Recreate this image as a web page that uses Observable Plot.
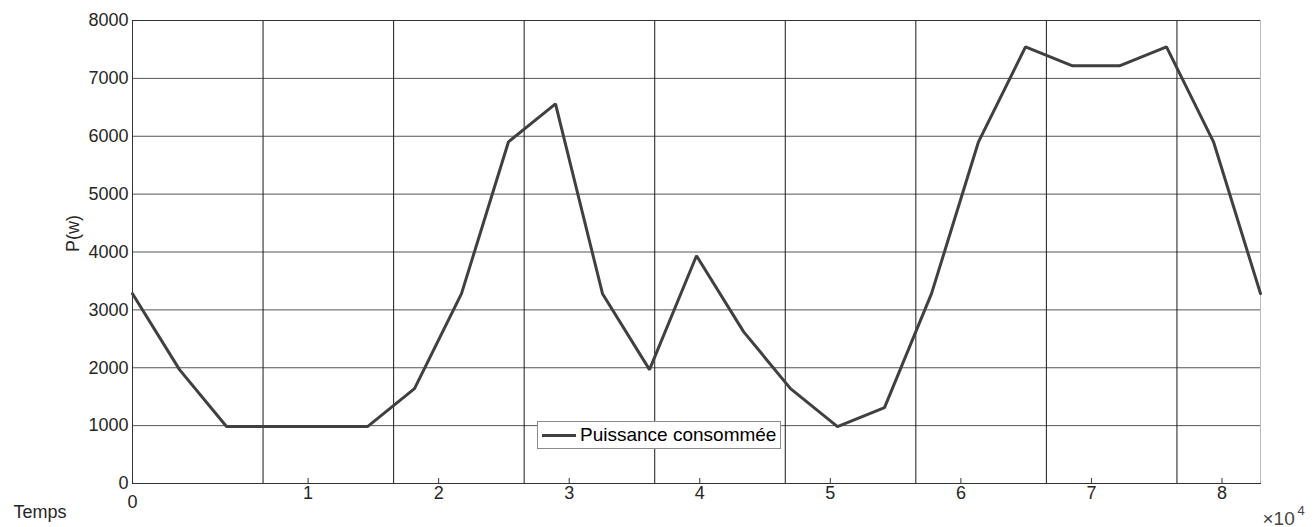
<!DOCTYPE html>
<html><head><meta charset="utf-8">
<script src="https://cdn.jsdelivr.net/npm/d3@7"></script>
<script src="https://cdn.jsdelivr.net/npm/@observablehq/plot@0.6"></script>
<style>
body{margin:0;background:#fff;}
#wrap{position:relative;width:1314px;height:527px;}
#legend{position:absolute;left:537px;top:421px;width:244px;height:28px;border:1px solid #8c8c8c;background:#fff;box-sizing:border-box;
 font:19px "Liberation Sans", Arial, sans-serif;color:#000;display:flex;align-items:center;}
#legend .sw{display:inline-block;width:34px;height:0;border-top:3px solid #404040;margin-left:4px;margin-right:4px;}
</style></head><body><div id="wrap"></div>
<script>
// Data: time in seconds (hourly), power in W
const timeSec = [0,3600,7200,10800,14400,18000,21600,25200,28800,32400,36000,39600,43200,46800,50400,54000,57600,61200,64800,68400,72000,75600,79200,82800,86400];
const power   = [3280,1968,984,984,984,984,1640,3280,5904,6560,3280,1968,3936,2624,1640,984,1312,3280,5904,7544,7216,7216,7544,5904,3280];
const yTickValues = [0,1000,2000,3000,4000,5000,6000,7000,8000];
const xGridValues = [10000,20000,30000,40000,50000,60000,70000,80000];
const xTickPositions = [13450,23450,33450,43450,53450,63450,73450,83450];
const xTickLabels = ["1","2","3","4","5","6","7","8"];
const seriesName = "Puissance consommée";
const yLabel = "P(w)";
const xLabel = "Temps";
const xMultiplier = "×10";
const xExponent = "4";

const data = timeSec.map((t, i) => ({t, p: power[i]}));
const labelMap = new Map(xTickPositions.map((d, i) => [d, xTickLabels[i]]));
const font = '"Liberation Sans", Arial, sans-serif';

const chart = Plot.plot({
  width: 1314, height: 527,
  marginLeft: 132, marginRight: 54, marginTop: 20, marginBottom: 44,
  style: {fontFamily: font, fontSize: "18px", color: "#262626", background: "#fff", overflow: "visible"},
  x: {domain: [0, 86400]},
  y: {domain: [0, 8000]},
  marks: [
    Plot.gridY(yTickValues, {stroke: "#555", strokeOpacity: 1}),
    Plot.gridX(xGridValues, {stroke: "#1a1a1a", strokeOpacity: 1}),
    Plot.frame({stroke: "#333"}),
    Plot.ruleX([86400], {stroke: "#bbb"}),
    Plot.axisY(yTickValues, {tickSize: 0, tickPadding: 4, label: null, tickFormat: d => String(d)}),
    Plot.axisX(xTickPositions, {tickSize: -5, tickPadding: 8, tickFormat: d => labelMap.get(d), label: null, stroke: "#333"}),
    Plot.axisX([0], {tickSize: 0, tickPadding: 12, label: null, tickFormat: d => String(d)}),
    Plot.line(data, {x: "t", y: "p", stroke: "#404040", strokeWidth: 3, strokeLinejoin: "miter"}),
    Plot.text([yLabel], {frameAnchor: "left", rotate: -90, dx: -59, fontSize: 18, fill: "#262626"}),
    Plot.text([xLabel], {frameAnchor: "bottom-left", dx: -119, dy: 28.5, textAnchor: "start", lineAnchor: "middle", fontSize: 18, fill: "#262626"}),
    Plot.text([xMultiplier], {frameAnchor: "bottom-right", dx: 2, dy: 35, textAnchor: "start", lineAnchor: "middle", fontSize: 19, fill: "#444"}),
    Plot.text([xExponent], {frameAnchor: "bottom-right", dx: 37, dy: 27, textAnchor: "start", lineAnchor: "middle", fontSize: 13, fill: "#444"})
  ]
});
const wrap = document.getElementById("wrap");
wrap.appendChild(chart);
const legend = document.createElement("div");
legend.id = "legend";
legend.innerHTML = `<span class="sw"></span><span>${seriesName}</span>`;
wrap.appendChild(legend);
</script></body></html>
